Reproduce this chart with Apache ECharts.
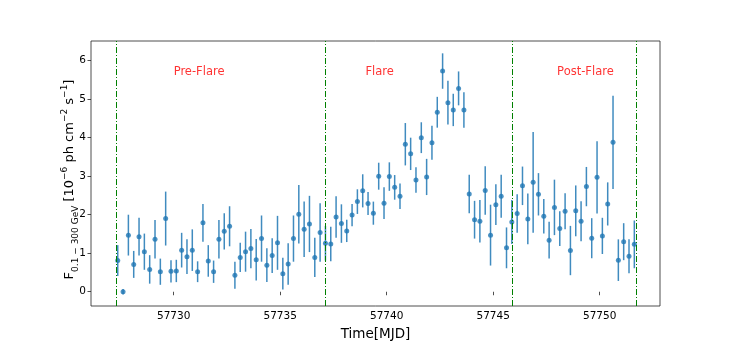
<!DOCTYPE html>
<html>
<head>
<meta charset="utf-8">
<script src="https://cdn.jsdelivr.net/npm/echarts@6/dist/echarts.min.js"></script>
<style>
  html, body { margin: 0; padding: 0; background: #fff; }
  #chart { width: 734px; height: 346px; }
</style>
</head>
<body>
<div id="chart"></div>
<script>
// light curve, 6-hour bins
var times = [
  57727.375, 57727.625, 57727.875,
  57728.125, 57728.375, 57728.625, 57728.875,
  57729.125, 57729.375, 57729.625, 57729.875,
  57730.125, 57730.375, 57730.625, 57730.875,
  57731.125, 57731.375, 57731.625, 57731.875,
  57732.125, 57732.375, 57732.625, 57732.875,
  57733.125, 57733.375, 57733.625, 57733.875,
  57734.125, 57734.375, 57734.625, 57734.875,
  57735.125, 57735.375, 57735.625, 57735.875,
  57736.125, 57736.375, 57736.625, 57736.875,
  57737.125, 57737.375, 57737.625, 57737.875,
  57738.125, 57738.375, 57738.625, 57738.875,
  57739.125, 57739.375, 57739.625, 57739.875,
  57740.125, 57740.375, 57740.625, 57740.875,
  57741.125, 57741.375, 57741.625, 57741.875,
  57742.125, 57742.375, 57742.625, 57742.875,
  57743.125, 57743.375, 57743.625, 57743.875,
  57744.125, 57744.375, 57744.625, 57744.875,
  57745.125, 57745.375, 57745.625, 57745.875,
  57746.125, 57746.375, 57746.625, 57746.875,
  57747.125, 57747.375, 57747.625, 57747.875,
  57748.125, 57748.375, 57748.625, 57748.875,
  57749.125, 57749.375, 57749.625, 57749.875,
  57750.125, 57750.375, 57750.625, 57750.875,
  57751.125, 57751.375, 57751.625
];
var flux = [
  0.81, 0.00, 1.47, 0.71, 1.43, 1.04, 0.58, 1.36, 0.52, 1.90,
  0.53, 0.54, 1.08, 0.91, 1.08, 0.52, 1.79, 0.80, 0.52, 1.36,
  1.57, 1.70, 0.43, 0.89, 1.04, 1.12, 0.83, 1.38, 0.69, 0.94,
  1.27, 0.47, 0.72, 1.38, 2.01, 1.62, 1.76, 0.89, 1.54, 1.26,
  1.24, 1.94, 1.77, 1.58, 1.99, 2.34, 2.62, 2.29, 2.04, 3.00,
  2.30, 2.99, 2.71, 2.48, 3.83, 3.58, 2.90, 4.00, 2.98, 3.87,
  4.66, 5.73, 4.91, 4.72, 5.28, 4.72, 2.54, 1.87, 1.83, 2.63,
  1.47, 2.26, 2.48, 1.14, 1.81, 2.03, 2.75, 1.89, 2.84, 2.53,
  1.96, 1.34, 2.19, 1.64, 2.09, 1.07, 2.10, 1.83, 2.73, 1.39,
  2.97, 1.45, 2.28, 3.88, 0.82, 1.30, 0.92, 1.23
];
var fluxErr = [
  0.40, 0.07, 0.53, 0.35, 0.49, 0.47, 0.37, 0.50, 0.34, 0.70,
  0.29, 0.29, 0.45, 0.45, 0.54, 0.27, 0.49, 0.41, 0.29, 0.50,
  0.47, 0.52, 0.35, 0.38, 0.52, 0.51, 0.54, 0.60, 0.44, 0.45,
  0.70, 0.41, 0.54, 0.60, 0.76, 0.72, 0.73, 0.51, 0.76, 0.45,
  0.45, 0.54, 0.50, 0.29, 0.29, 0.32, 0.43, 0.30, 0.30, 0.35,
  0.41, 0.37, 0.32, 0.33, 0.55, 0.42, 0.33, 0.40, 0.47, 0.44,
  0.40, 0.46, 0.57, 0.42, 0.44, 0.46, 0.50, 0.49, 0.55, 0.63,
  0.79, 0.53, 0.56, 0.53, 0.57, 0.50, 0.50, 0.66, 1.31, 0.55,
  0.45, 0.48, 0.72, 0.45, 0.47, 0.64, 0.66, 0.52, 0.51, 0.52,
  0.94, 0.47, 0.56, 1.21, 0.54, 0.48, 0.44, 0.62
];
var phaseEdges = [57727.29, 57737.10, 57745.88, 57751.70];
var phaseNames = ["Pre-Flare", "Flare", "Post-Flare"];
var phaseLabelX = [57730, 57739, 57748];
var phaseLabelY = 5.71;
var xTicks = [57730, 57735, 57740, 57745, 57750];
var yTicks = [0, 1, 2, 3, 4, 5, 6];

var FONT = "DejaVu Sans";

var points = times.map(function (t, i) { return [t, flux[i], fluxErr[i]]; });
var labels = phaseNames.map(function (n, i) { return [phaseLabelX[i], phaseLabelY, n]; });

var chart = echarts.init(document.getElementById("chart"));
var option = {
  animation: false,
  grid: {
    left: 91, right: 74, top: 41, bottom: 39,
    show: true, borderColor: "#222", borderWidth: 0.8
  },
  xAxis: {
    type: "value",
    min: 57726.12,
    max: 57752.83,
    splitLine: { show: false },
    axisLine: { show: false },
    axisTick: { show: true, inside: false, length: 3.5, customValues: xTicks, lineStyle: { color: "#222", width: 0.8 } },
    axisLabel: {
      customValues: xTicks, margin: 5,
      fontFamily: FONT, fontSize: 10.5, color: "#000",
      formatter: function (v) { return String(v); }
    },
    name: "Time[MJD]",
    nameLocation: "middle",
    nameGap: 21,
    nameMoveOverlap: false,
    nameTextStyle: { fontFamily: FONT, fontSize: 13.5, color: "#000" }
  },
  yAxis: {
    type: "value",
    min: -0.37,
    max: 6.51,
    splitLine: { show: false },
    axisLine: { show: false },
    axisTick: { show: true, inside: false, length: 3.5, customValues: yTicks, lineStyle: { color: "#222", width: 0.8 } },
    axisLabel: {
      customValues: yTicks, margin: 5,
      fontFamily: FONT, fontSize: 10.5, color: "#000",
      formatter: function (v) { return String(v); }
    },
    name: "{m|F}{sub|0.1 − 300 GeV}{m| [10}{sup|−6}{m| ph cm}{sup|−2}{m| s}{sup|−1}{m|]}",
    nameLocation: "middle",
    nameRotate: 90,
    nameGap: 11,
    nameMoveOverlap: false,
    nameTextStyle: {
      fontFamily: FONT, color: "#000",
      padding: [0, 12, 0, 0],
      rich: {
        m: { fontFamily: FONT, fontSize: 13, color: "#000", lineHeight: 20 },
        sub: { fontFamily: FONT, fontSize: 9, color: "#000", verticalAlign: "bottom", lineHeight: 20, padding: [6, 0, 0, 0] },
        sup: { fontFamily: FONT, fontSize: 9, color: "#000", verticalAlign: "top", lineHeight: 20, padding: [0, 0, 6, 0] }
      }
    }
  },
  series: [
    {
      type: "custom",
      silent: true,
      data: points,
      encode: { x: 0, y: 1 },
      renderItem: function (params, api) {
        var x = api.value(0), y = api.value(1), e = api.value(2);
        var p1 = api.coord([x, y - e]);
        var p2 = api.coord([x, y + e]);
        return {
          type: "line",
          shape: { x1: p1[0], y1: p1[1], x2: p2[0], y2: p2[1] },
          style: { stroke: "#1f77b4", lineWidth: 1.5, opacity: 0.85 }
        };
      },
      z: 2
    },
    {
      type: "scatter",
      silent: true,
      data: points,
      symbol: "circle",
      symbolSize: 5,
      itemStyle: { color: "#1f77b4" },
      z: 3,
      markLine: {
        silent: true,
        symbol: ["none", "none"],
        label: { show: false },
        lineStyle: { color: "#008000", width: 1, type: [6, 2, 1, 2] },
        data: phaseEdges.map(function (v) { return { xAxis: v }; })
      }
    },
    {
      type: "scatter",
      silent: true,
      data: labels,
      symbolSize: 0,
      label: {
        show: true,
        position: "right",
        distance: 0,
        formatter: function (p) { return p.value[2]; },
        fontFamily: FONT, fontSize: 11.5, color: "#ff0000"
      },
      z: 4
    }
  ]
};
chart.setOption(option);
</script>
</body>
</html>
